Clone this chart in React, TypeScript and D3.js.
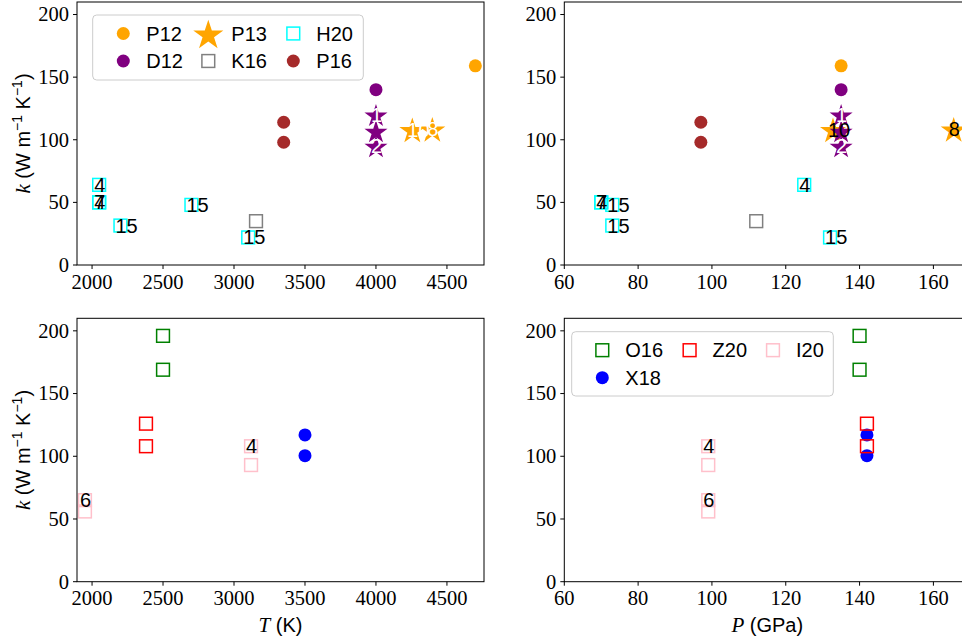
import React from 'react';
import * as d3 from 'd3';

// ---------- ticks ----------
const K_TICKS = [0, 50, 100, 150, 200];
const T_TICKS = [2000, 2500, 3000, 3500, 4000, 4500];
const P_TICKS = [60, 80, 100, 120, 140, 160];

// ---------- top panels data ----------
const P12_T = [4700];
const P12_P = [135];
const P12_K = [159];

const D12_T = [4000];
const D12_P = [135];
const D12_K = [140];

const P13_T = [4256, 4397];
const P13_P = [132.8, 165.5];
const P13_K = [108, 108.5];
const P13_LABELS = ['10', '8'];

const P13D_T = [4000, 4000, 4000];
const P13D_P = [135, 135, 135];
const P13D_K = [120, 107, 95];
const P13D_LABELS = ['1', '', '2'];

const K16_T = [3155];
const K16_P = [112];
const K16_K = [35];

const H20_T = [2050, 2050, 2050, 2200, 2700, 3100];
const H20_P = [125, 70, 70, 73, 73, 132];
const H20_K = [64, 50, 50, 31.5, 48, 22];
const H20_LABELS = ['4', '4', '7', '15', '15', '15'];

const P16_T = [3350, 3350];
const P16_P = [97, 97];
const P16_K = [114, 98];

// ---------- bottom panels data ----------
const O16_T = [2500, 2500];
const O16_P = [140, 140];
const O16_K = [196, 169];

const X18_T = [3500, 3500];
const X18_P = [142, 142];
const X18_K = [117, 100.5];

const Z20_T = [2380, 2380];
const Z20_P = [142, 142];
const Z20_K = [126, 108];

const I20_T = [3120, 3120, 1950, 1950];
const I20_P = [99, 99, 99, 99];
const I20_K = [108, 93, 65, 56];
const I20_LABELS = ['4', '', '6', ''];

type Marker = 'circle' | 'square' | 'star';
interface Series {
  name: string | null;
  T: number[];
  P: number[];
  K: number[];
  labels?: string[];
  marker: Marker;
  color: string;
  starSize?: number;
  labelColorT?: string;
  labelColorP?: string;
}

const TOP_SERIES: Series[] = [
  { name: 'P12', T: P12_T, P: P12_P, K: P12_K, marker: 'circle', color: '#FFA500' },
  { name: 'D12', T: D12_T, P: D12_P, K: D12_K, marker: 'circle', color: '#800080' },
  { name: 'P13', T: P13_T, P: P13_P, K: P13_K, labels: P13_LABELS, marker: 'star', color: '#FFA500', starSize: 210, labelColorT: '#ffffff', labelColorP: '#000000' },
  { name: null, T: P13D_T, P: P13D_P, K: P13D_K, labels: P13D_LABELS, marker: 'star', color: '#800080', starSize: 165, labelColorT: '#ffffff', labelColorP: '#ffffff' },
  { name: 'K16', T: K16_T, P: K16_P, K: K16_K, marker: 'square', color: '#808080' },
  { name: 'H20', T: H20_T, P: H20_P, K: H20_K, labels: H20_LABELS, marker: 'square', color: '#00FFFF' },
  { name: 'P16', T: P16_T, P: P16_P, K: P16_K, marker: 'circle', color: '#A52A2A' },
];

const BOTTOM_SERIES: Series[] = [
  { name: 'O16', T: O16_T, P: O16_P, K: O16_K, marker: 'square', color: '#008000' },
  { name: 'X18', T: X18_T, P: X18_P, K: X18_K, marker: 'circle', color: '#0000FF' },
  { name: 'Z20', T: Z20_T, P: Z20_P, K: Z20_K, marker: 'square', color: '#FF0000' },
  { name: 'I20', T: I20_T, P: I20_P, K: I20_K, labels: I20_LABELS, marker: 'square', color: '#FFC0CB' },
];

// legend layout: items with [column, row]
interface LegendCfg {
  x: number; y: number; w: number; h: number;
  cols: number[];
  items: { name: string; col: number; row: number }[];
}
const TOP_LEGEND: LegendCfg = {
  x: 92.7, y: 15, w: 270.6, h: 65, cols: [0, 85, 170],
  items: [
    { name: 'P12', col: 0, row: 0 }, { name: 'D12', col: 0, row: 1 },
    { name: 'P13', col: 1, row: 0 }, { name: 'K16', col: 1, row: 1 },
    { name: 'H20', col: 2, row: 0 }, { name: 'P16', col: 2, row: 1 },
  ],
};
const BOT_LEGEND: LegendCfg = {
  x: 571.7, y: 331.7, w: 261.6, h: 64.3, cols: [0, 87.3, 170.7],
  items: [
    { name: 'O16', col: 0, row: 0 }, { name: 'X18', col: 0, row: 1 },
    { name: 'Z20', col: 1, row: 0 }, { name: 'I20', col: 2, row: 0 },
  ],
};

const SANS = '"Liberation Sans", Arial, Helvetica, sans-serif';
const SERIF = '"Liberation Serif", "Times New Roman", serif';
const TICK_FS = 20.5;
const LABEL_FS = 20;

const W = 962;
const H = 643;

const LEFT_RANGE: [number, number] = [77, 484];
const RIGHT_RANGE: [number, number] = [564.3, 970.3];
const TOP_RANGE: [number, number] = [265, 2];
const BOT_RANGE: [number, number] = [581.7, 318.3];

const T_DOMAIN: [number, number] = [1894, 4761];
const P_DOMAIN: [number, number] = [60, 170];
const K_DOMAIN: [number, number] = [0, 210];

function MarkerGlyph({ s, x, y, legend }: { s: Series; x: number; y: number; legend?: boolean }) {
  if (s.marker === 'circle') {
    return <circle cx={x} cy={y} r={6.5} fill={s.color} />;
  }
  if (s.marker === 'square') {
    const half = 6.4;
    return (
      <rect x={x - half} y={y - half} width={half * 2} height={half * 2} fill="none" stroke={s.color} strokeWidth={1.5} />
    );
  }
  const size = legend ? 280 : s.starSize || 200;
  const d = d3.symbol().type(d3.symbolStar).size(size)() || '';
  return <path d={d} transform={`translate(${x},${y + (legend ? 2 : 1.5)})`} fill={s.color} />;
}

function Panel({
  series,
  xKey,
  xDomain,
  xRange,
  yRange,
  xTicks,
  showYLabel,
  xLabel,
  legend,
}: {
  series: Series[];
  xKey: 'T' | 'P';
  xDomain: [number, number];
  xRange: [number, number];
  yRange: [number, number];
  xTicks: number[];
  showYLabel: boolean;
  xLabel?: [string, string];
  legend?: LegendCfg;
}) {
  const x = d3.scaleLinear().domain(xDomain).range(xRange);
  const y = d3.scaleLinear().domain(K_DOMAIN).range(yRange);
  const [x0, x1] = xRange;
  const [yb, yt] = yRange;
  const yMid = (yb + yt) / 2;
  const xMid = (x0 + x1) / 2;

  return (
    <g>
      {series.map((s, si) => (
        <g key={'s' + si}>
          {s.K.map((k, i) => (
            <MarkerGlyph key={i} s={s} x={x(s[xKey][i])} y={y(k)} />
          ))}
        </g>
      ))}
      {series.map((s, si) =>
        s.labels ? (
          <g key={'l' + si}>
            {s.labels.map((lab, i) =>
              lab ? (
                <text
                  key={i}
                  x={x(s[xKey][i]) - 5}
                  y={y(s.K[i])}
                  dominantBaseline="central"
                  fontFamily={SANS}
                  fontSize={20}
                  fill={(xKey === 'T' ? s.labelColorT : s.labelColorP) || '#000'}
                >
                  {lab}
                </text>
              ) : null
            )}
          </g>
        ) : null
      )}
      <rect x={x0} y={yt} width={x1 - x0} height={yb - yt} fill="none" stroke="#000" strokeWidth={1} />
      {K_TICKS.map((t) => (
        <g key={'yt' + t}>
          <line x1={x0 - 4} x2={x0} y1={y(t)} y2={y(t)} stroke="#000" strokeWidth={1} />
          <text x={x0 - 8} y={y(t) + 6.8} textAnchor="end" fontFamily={SERIF} fontSize={TICK_FS} fill="#000">
            {t}
          </text>
        </g>
      ))}
      {xTicks.map((t) => (
        <g key={'xt' + t}>
          <line x1={x(t)} x2={x(t)} y1={yb} y2={yb + 4} stroke="#000" strokeWidth={1} />
          <text x={x(t)} y={yb + 23.5} textAnchor="middle" fontFamily={SERIF} fontSize={TICK_FS} fill="#000">
            {t}
          </text>
        </g>
      ))}
      {showYLabel && (
        <text transform={`translate(30,${yMid}) rotate(-90)`} textAnchor="middle" fontFamily={SANS} fontSize={LABEL_FS} fill="#000">
          <tspan fontFamily={SERIF} fontStyle="italic" fontSize={21}>k</tspan>
          <tspan> (W m</tspan>
          <tspan dy={-8} fontSize={14}>−1</tspan>
          <tspan dy={8}> K</tspan>
          <tspan dy={-8} fontSize={14}>−1</tspan>
          <tspan dy={8}>)</tspan>
        </text>
      )}
      {xLabel && (
        <text x={xMid} y={yb + 50.5} textAnchor="middle" fontFamily={SANS} fontSize={LABEL_FS} fill="#000">
          <tspan fontFamily={SERIF} fontStyle="italic" fontSize={21}>{xLabel[0]}</tspan>
          <tspan>{xLabel[1]}</tspan>
        </text>
      )}
      {legend && (
        <g>
          <rect x={legend.x} y={legend.y} width={legend.w} height={legend.h} rx={4} fill="#fff" fillOpacity={0.8} stroke="#cccccc" strokeWidth={1} />
          {legend.items.map((it) => {
            const s = series.find((q) => q.name === it.name)!;
            const mx = legend.x + 30.6 + legend.cols[it.col];
            const my = legend.y + 18.5 + it.row * 27.5;
            return (
              <g key={it.name}>
                <MarkerGlyph s={s} x={mx} y={my} legend />
                <text x={mx + 23} y={my} dominantBaseline="central" fontFamily={SANS} fontSize={LABEL_FS} fill="#000">
                  {it.name}
                </text>
              </g>
            );
          })}
        </g>
      )}
    </g>
  );
}

export default function App() {
  return (
    <svg
      width={W}
      height={H}
      viewBox={`0 0 ${W} ${H}`}
      style={{ position: 'absolute', left: 0, top: 0, background: '#fff' }}
    >
      <rect x={0} y={0} width={W} height={H} fill="#fff" />
      <Panel series={TOP_SERIES} xKey="T" xDomain={T_DOMAIN} xRange={LEFT_RANGE} yRange={TOP_RANGE} xTicks={T_TICKS} showYLabel legend={TOP_LEGEND} />
      <Panel series={TOP_SERIES} xKey="P" xDomain={P_DOMAIN} xRange={RIGHT_RANGE} yRange={TOP_RANGE} xTicks={P_TICKS} showYLabel={false} />
      <Panel series={BOTTOM_SERIES} xKey="T" xDomain={T_DOMAIN} xRange={LEFT_RANGE} yRange={BOT_RANGE} xTicks={T_TICKS} showYLabel xLabel={['T', ' (K)']} />
      <Panel series={BOTTOM_SERIES} xKey="P" xDomain={P_DOMAIN} xRange={RIGHT_RANGE} yRange={BOT_RANGE} xTicks={P_TICKS} showYLabel={false} xLabel={['P', ' (GPa)']} legend={BOT_LEGEND} />
    </svg>
  );
}
